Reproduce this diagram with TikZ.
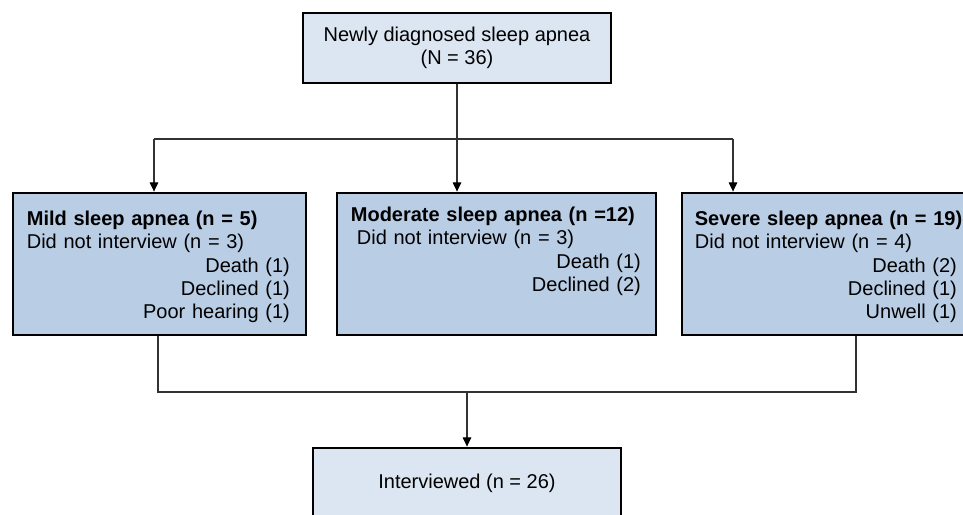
\documentclass[tikz,border=0pt]{standalone}
\usepackage{fontspec}
\setmainfont{Liberation Sans}
\usetikzlibrary{arrows.meta}
\definecolor{boxlight}{RGB}{220,230,242}
\definecolor{boxmid}{RGB}{185,205,229}
\definecolor{wire}{RGB}{50,50,50}
\tikzset{>={Triangle[length=7pt,width=6.5pt,color=black]}}

\begin{document}
\begin{tikzpicture}[x=0.75pt, y=0.75pt,
    every node/.style={font=\fontsize{15}{17.5}\selectfont},
    endbox/.style={draw, line width=2.1pt, fill=boxlight, minimum width=231pt,
      minimum height=52.5pt, align=center, inner sep=0pt},
    groupbox/.style={draw, line width=2.1pt, fill=boxmid, minimum height=106.5pt, inner sep=0pt},
    grouptext/.style={anchor=north west, inner sep=0pt, align=left},
    link/.style={draw=wire, line width=0.8pt}]
    \useasboundingbox (0,0) rectangle (963,514);
    \clip (0,0) rectangle (963,514);

    % boxes
    \node[endbox] (diag) at (457,466) {Newly diagnosed sleep apnea\\(N = 36)};
    \node[groupbox, minimum width=219.75pt] (mild) at (159.5,250) {};
    \node[groupbox, minimum width=239.25pt] (moderate) at (496.5,250) {};
    \node[groupbox, minimum width=217.5pt] (severe) at (827,250) {};
    \node[endbox] (interviewed) at (467,31) {Interviewed (n = 26)};

    % box texts
    \node[grouptext, text width=197.25pt] (mildtxt) at ([shift={(15,-19)}]mild.north west)
      {\mbox{\textbf{Mild sleep apnea (n = 5)}}\\Did not interview (n = 3)\\\hfill Death (1)\\\hfill Declined (1)\\\hfill Poor hearing (1)};
    \node[grouptext, text width=217.5pt] (moderatetxt) at ([shift={(15,-15)}]moderate.north west)
      {\mbox{\textbf{Moderate sleep apnea (n =12)}}\\\hspace*{0.3em}Did not interview (n = 3)\\\hfill Death (1)\\\hfill Declined (2)};
    \node[grouptext, text width=196.5pt] (severetxt) at ([shift={(14,-19)}]severe.north west)
      {\mbox{\textbf{Severe sleep apnea (n = 19)}}\\Did not interview (n = 4)\\\hfill Death (2)\\\hfill Declined (1)\\\hfill Unwell (1)};

    % split to the three groups
    \coordinate (split) at (457,375);
    \coordinate (splitL) at (154,375);
    \coordinate (splitR) at (733,375);
    \draw[link] (diag.south) -- (split);
    \draw[link] (splitL) -- (splitR);
    \draw[link,->] (splitL) -- (splitL |- mild.north);
    \draw[link,->] (split) -- (split |- moderate.north);
    \draw[link,->] (splitR) -- (splitR |- severe.north);

    % join to interviewed
    \coordinate (join) at (467,122);
    \coordinate (joinL) at (158,122);
    \coordinate (joinR) at (856,122);
    \draw[link] (joinL |- mild.south) -- (joinL) -- (joinR) -- (joinR |- severe.south);
    \draw[link,->] (join) -- (interviewed);
\end{tikzpicture}
\end{document}
